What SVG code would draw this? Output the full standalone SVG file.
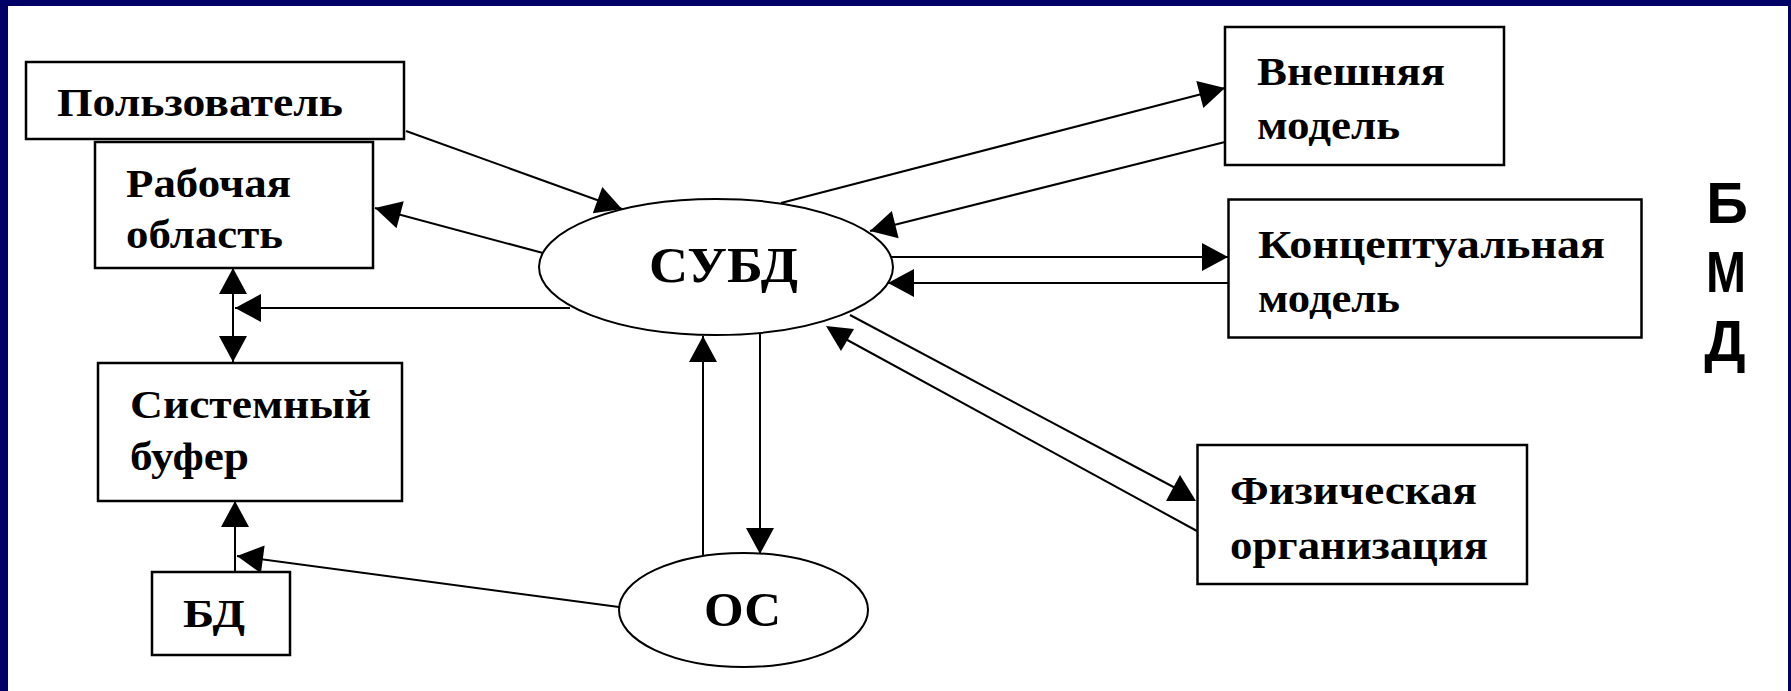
<svg xmlns="http://www.w3.org/2000/svg" width="1791" height="691" viewBox="0 0 1791 691">
<style>
.box{fill:#fff;stroke:#000;stroke-width:2.5}
.ell{fill:#fff;stroke:#000;stroke-width:2}
.t{font-family:"Liberation Serif","DejaVu Serif",serif;font-size:40px;font-weight:bold;fill:#000}
.big{font-family:"Liberation Serif","DejaVu Serif",serif;font-size:50px;font-weight:bold;fill:#000}
.os{font-family:"Liberation Serif","DejaVu Serif",serif;font-size:48px;font-weight:bold;fill:#000}
.side{font-family:"Liberation Sans",Arial,sans-serif;font-size:58px;font-weight:bold;fill:#000;text-anchor:middle}
.c{fill:none;stroke:#000;stroke-width:2}
.a{marker-end:url(#ah)}
</style>
<defs>
<marker id="ah" markerUnits="userSpaceOnUse" markerWidth="30" markerHeight="30" refX="26" refY="14" orient="auto-start-reverse" overflow="visible">
<path d="M0,0 L26,14 L0,28 Z" fill="#000"/>
</marker>
<marker id="triup" markerUnits="userSpaceOnUse" markerWidth="30" markerHeight="30" refX="15" refY="16" orient="0" overflow="visible">
<path d="M0,26 L14,0 L30,26 Z" fill="#000"/>
</marker>
<marker id="tridown" markerUnits="userSpaceOnUse" markerWidth="30" markerHeight="30" refX="14" refY="10" orient="0" overflow="visible">
<path d="M0,0 L28,3 L15,25 Z" fill="#000"/>
</marker>
</defs>
<rect x="0" y="0" width="1791" height="691" fill="#000066"/>
<rect x="8" y="6" width="1780" height="685" fill="#fff"/>

<g id="connectors">
<line class="c a" x1="406" y1="131" x2="622" y2="209"/>
<line class="c a" x1="543" y1="253" x2="375" y2="208"/>
<line class="c a" x1="570" y1="308" x2="235" y2="308"/>
<line class="c a" x1="233" y1="268" x2="233" y2="362" style="marker-start:url(#ah)"/>
<line class="c a" x1="235" y1="572" x2="235" y2="501"/>
<line class="c a" x1="619" y1="607" x2="237" y2="556"/>
<line class="c a" x1="781" y1="203" x2="1225" y2="88"/>
<line class="c a" x1="1225" y1="142" x2="870" y2="231"/>
<line class="c a" x1="891" y1="257" x2="1228" y2="257"/>
<line class="c a" x1="1228" y1="283" x2="888" y2="283"/>
<line class="c" x1="850" y1="315" x2="1181" y2="491" style="marker-end:url(#triup)"/>
<line class="c" x1="1197" y1="531" x2="840" y2="336" style="marker-end:url(#tridown)"/>
<line class="c a" x1="703" y1="556" x2="703" y2="336"/>
<line class="c a" x1="760" y1="334" x2="760" y2="554"/>
</g>

<g id="user">
<rect class="box" x="26" y="62" width="378" height="77"/>
<text class="t" x="57" y="116" textLength="286" lengthAdjust="spacingAndGlyphs">Пользователь</text>
</g>
<g id="workarea">
<rect class="box" x="95" y="142" width="278" height="126"/>
<text class="t" x="126" y="197" textLength="165" lengthAdjust="spacingAndGlyphs">Рабочая</text>
<text class="t" x="126" y="248" textLength="157" lengthAdjust="spacingAndGlyphs">область</text>
</g>
<g id="sysbuf">
<rect class="box" x="98" y="363" width="304" height="138"/>
<text class="t" x="130" y="418" textLength="241" lengthAdjust="spacingAndGlyphs">Системный</text>
<text class="t" x="130" y="470" textLength="119" lengthAdjust="spacingAndGlyphs">буфер</text>
</g>
<g id="db">
<rect class="box" x="152" y="572" width="138" height="83"/>
<text class="t" x="183" y="627" textLength="62" lengthAdjust="spacingAndGlyphs">БД</text>
</g>
<g id="dbms">
<ellipse class="ell" cx="716" cy="267" rx="177" ry="68"/>
<text class="big" x="649" y="282" textLength="149" lengthAdjust="spacingAndGlyphs">СУБД</text>
</g>
<g id="os">
<ellipse class="ell" cx="743.5" cy="610" rx="124.5" ry="57"/>
<text class="os" x="704" y="626" textLength="77" lengthAdjust="spacingAndGlyphs">ОС</text>
</g>
<g id="external">
<rect class="box" x="1225" y="27" width="279" height="138"/>
<text class="t" x="1257" y="85" textLength="188" lengthAdjust="spacingAndGlyphs">Внешняя</text>
<text class="t" x="1257" y="139" textLength="143" lengthAdjust="spacingAndGlyphs">модель</text>
</g>
<g id="conceptual">
<rect class="box" x="1228.5" y="199.5" width="413" height="138"/>
<text class="t" x="1258" y="258" textLength="347" lengthAdjust="spacingAndGlyphs">Концептуальная</text>
<text class="t" x="1258" y="312" textLength="142" lengthAdjust="spacingAndGlyphs">модель</text>
</g>
<g id="physical">
<rect class="box" x="1197.5" y="445" width="329.5" height="139"/>
<text class="t" x="1230" y="504" textLength="247" lengthAdjust="spacingAndGlyphs">Физическая</text>
<text class="t" x="1230" y="559" textLength="258" lengthAdjust="spacingAndGlyphs">организация</text>
</g>
<g id="bmd">
<text class="side" x="1727" y="223">Б</text>
<text class="side" x="1726" y="292" textLength="40" lengthAdjust="spacingAndGlyphs">М</text>
<text class="side" x="1725" y="361">Д</text>
</g>
</svg>
